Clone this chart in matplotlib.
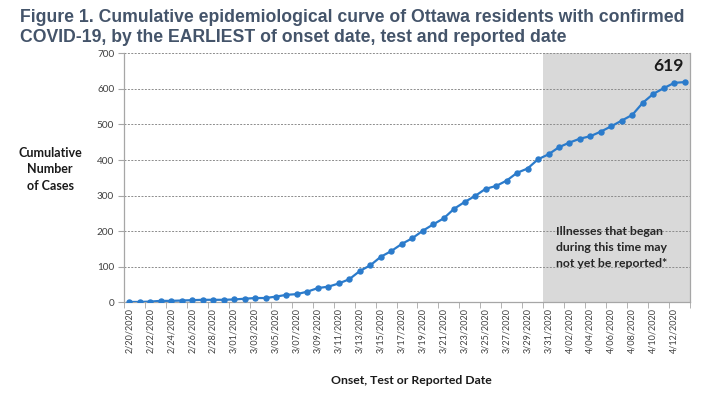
import matplotlib
matplotlib.use("Agg")
import matplotlib.pyplot as plt
import numpy as np
import pandas as pd

dates = pd.date_range("2020-02-20", "2020-04-13", freq="D")
cases = [1, 1, 2, 4, 4, 5, 6, 7, 7, 7, 8, 10, 12, 12, 16, 21, 23, 30, 40,
         44, 53, 65, 88, 104, 128, 144, 164, 180, 201, 219, 236, 263, 282,
         299, 319, 327, 342, 364, 376, 402, 416, 436, 449, 460, 467, 480,
         495, 511, 527, 561, 586, 602, 617, 619]
tick_labels = [f"{d.month}/{d.day:02d}/{d.year}" for d in dates[::2]]
shade_start = "2020-03-31"
final_label = "619"
note = "Illnesses that began\nduring this time may\nnot yet be reported*"
title = ("Figure 1. Cumulative epidemiological curve of Ottawa residents with confirmed\n"
         "COVID-19, by the EARLIEST of onset date, test and reported date")

fig = plt.figure(figsize=(7.05, 3.95), dpi=100)
ax = fig.add_axes([124/705, 1-302.3/395, (690-124)/705, (302.3-53.3)/395])

x = np.arange(len(dates))
n = len(dates)
s_idx = list(dates).index(pd.Timestamp(shade_start))
ax.axvspan(s_idx-0.5, n-0.5, color="#D9D9D9", zorder=0, lw=0)

ax.plot(x, cases, color="#2B7BCB", lw=1.6, marker="o", ms=3.6, zorder=3)

ax.set_xlim(-0.5, n-0.5)
ax.set_ylim(0, 700)
ax.set_yticks(np.arange(0, 701, 100))
ax.yaxis.grid(True, linestyle=(0, (2, 1.5)), color="#8C8C8C", lw=0.7)
ax.set_axisbelow(True)

ax.set_xticks(x[::2])
ax.set_xticklabels(tick_labels, rotation=90, fontsize=6.5, color="#404040",
                   family="Lato")
ax.set_xticks(np.arange(-0.5, n, 2), minor=True)
ax.tick_params(axis="x", which="major", length=0, pad=4)
ax.tick_params(axis="x", which="minor", length=4, color="#A6A6A6")
ax.tick_params(axis="y", length=4, color="#A6A6A6", labelsize=7.2, labelcolor="#404040", pad=3)
for lbl in ax.get_yticklabels():
    lbl.set_family("Lato")

ax.spines["top"].set_visible(False)
for side in ["left", "bottom", "right"]:
    ax.spines[side].set_color("#A6A6A6")
    ax.spines[side].set_linewidth(0.9)

ax.text(n-2.6, 664, final_label, fontsize=12.5, fontweight="bold", ha="center",
        va="center", color="#1a1a1a", family="Lato")
ax.text(s_idx+0.7, 153, note, fontsize=8.8, fontweight="bold", ha="left",
        va="center", color="#262626", family="Lato", linespacing=1.55)

fig.text(50/705, 1-169/395, "Cumulative\nNumber\nof Cases", fontsize=9,
         fontweight="bold", ha="center", va="center", color="#1a1a1a",
         family="Lato", linespacing=1.45)
fig.text(411/705, 1-381/395, "Onset, Test or Reported Date", fontsize=8.8,
         fontweight="bold", ha="center", va="center", color="#1a1a1a",
         family="Lato")
fig.text(20/705, 1-27.5/395, title, fontsize=12.7, fontweight="bold", ha="left",
         va="center", color="#44546A", family="Liberation Sans",
         linespacing=1.22)

fig.savefig("out.png", dpi=100, facecolor="white")
